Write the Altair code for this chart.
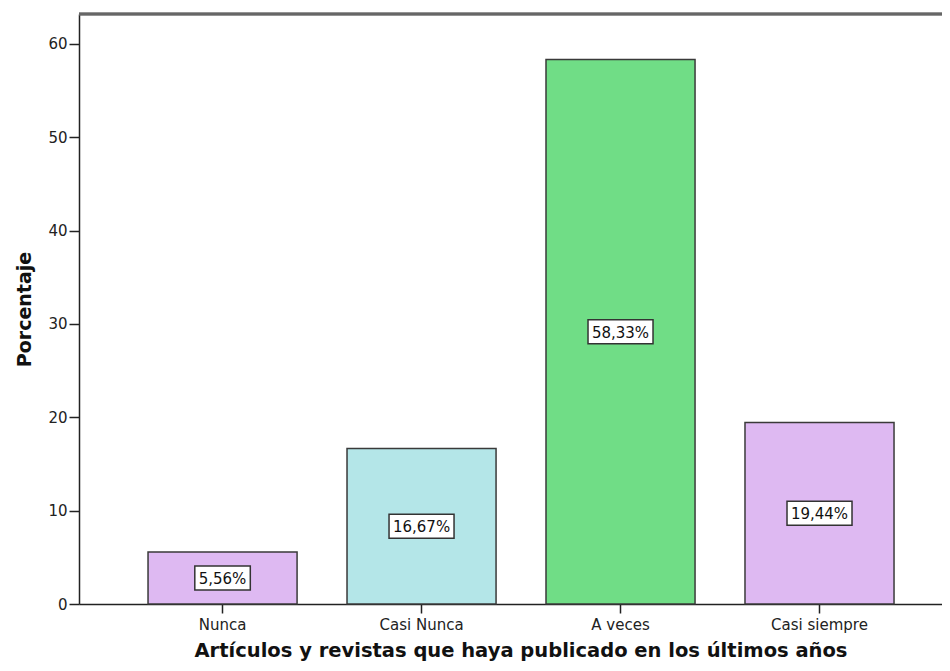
import altair as alt
import pandas as pd

categories = ["Nunca", "Casi Nunca", "A veces", "Casi siempre"]
values = [5.56, 16.67, 58.33, 19.44]
labels = ["5,56%", "16,67%", "58,33%", "19,44%"]
colors = ["#DEB9F2", "#B4E6E8", "#70DD86", "#DEB9F2"]

def box_path(text):
    w = 9.5 * len(text) + 8
    h = 24
    return f"M{-w/2},{-h/2}L{w/2},{-h/2}L{w/2},{h/2}L{-w/2},{h/2}Z"

df = pd.DataFrame({
    "cat": categories,
    "val": values,
    "lab": labels,
    "col": colors,
    "box": [box_path(t) for t in labels],
})

FONT = "DejaVu Sans"
W = 863
H = 590

x_enc = alt.X(
    "cat:N",
    sort=categories,
    scale=alt.Scale(paddingInner=0.251, paddingOuter=0.294, align=0.59),
    axis=alt.Axis(
        title="Artículos y revistas que haya publicado en los últimos años",
        labelAngle=0,
        labelFont=FONT, labelFontSize=15, labelColor="#222222",
        labelPadding=4, tickSize=9, tickColor="#222222", tickWidth=1.5,
        domainColor="#222222", domainWidth=1.5,
        titleFont=FONT, titleFontSize=19.5, titleFontWeight="bold", titleColor="#111111",
        titleX=441.5, titleY=52, titleBaseline="alphabetic", titleAlign="center",
    ),
)

y_scale = alt.Scale(domain=[0, 63.2], nice=False, zero=True)

bars = alt.Chart(df).mark_bar(stroke="#3a3a3a", strokeWidth=1.5).encode(
    x=x_enc,
    y=alt.Y(
        "val:Q",
        scale=y_scale,
        axis=alt.Axis(
            title="Porcentaje",
            values=[0, 10, 20, 30, 40, 50, 60],
            grid=False,
            labelFont=FONT, labelFontSize=15, labelColor="#222222",
            labelPadding=2, tickSize=10, tickColor="#222222", tickWidth=1.5,
            domainColor="#222222", domainWidth=1.5,
            titleFont=FONT, titleFontSize=19, titleFontWeight="bold", titleColor="#111111",
            titleX=-49, titleY=295, titleBaseline="alphabetic", titleAlign="center",
            titleAngle=270,
        ),
    ),
    color=alt.Color("col:N", scale=None),
)

boxes = alt.Chart(df).transform_calculate(mid="datum.val / 2").mark_point(
    filled=True, fill="white", stroke="#333333", strokeWidth=1.5, opacity=1, size=4
).encode(
    x=alt.X("cat:N", sort=categories),
    y=alt.Y("mid:Q", scale=y_scale),
    shape=alt.Shape("box:N", scale=None),
)

texts = alt.Chart(df).transform_calculate(mid="datum.val / 2").mark_text(
    font=FONT, fontSize=15, color="#111111", baseline="middle", align="center", dy=1
).encode(
    x=alt.X("cat:N", sort=categories),
    y=alt.Y("mid:Q", scale=y_scale),
    text="lab:N",
)

top_line = alt.Chart(df).mark_rule(color="#666666", strokeWidth=2.5).encode(
    x=alt.value(0), x2=alt.value(W), y=alt.value(0)
)

chart = alt.layer(bars, boxes, texts, top_line).properties(
    width=W,
    height=H,
    autosize=alt.AutoSizeParams(type="none"),
    padding={"left": 71, "top": 6, "right": 0, "bottom": 59},
).configure_view(strokeWidth=0).configure(background="white")

chart.save("out.html", embed_options={"renderer": "svg", "actions": False})
